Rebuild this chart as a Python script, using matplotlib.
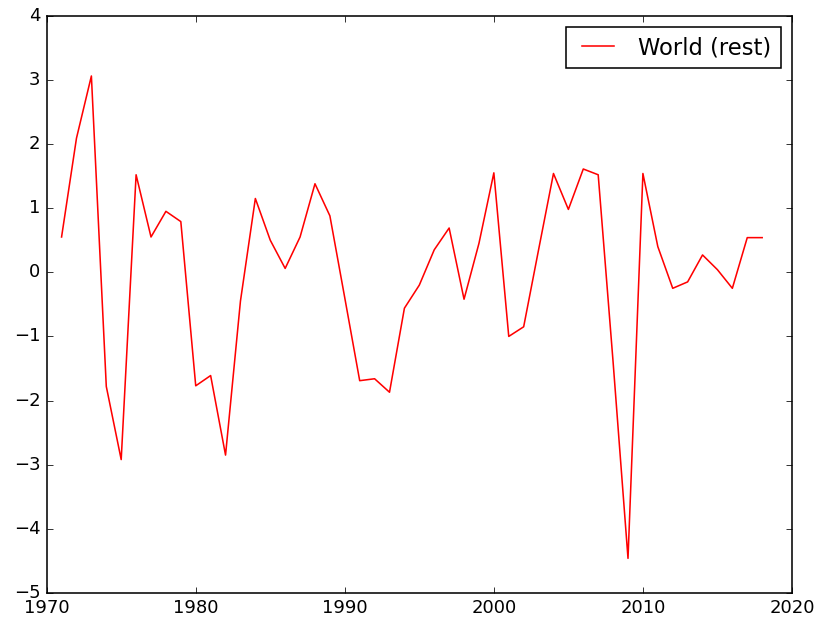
import matplotlib
matplotlib.use("Agg")
import matplotlib.pyplot as plt

# yearly values
years = list(range(1971, 2019))
world_rest = [
    0.55, 2.09, 3.06, -1.78, -2.92, 1.52, 0.55, 0.95, 0.79, -1.77,
    -1.61, -2.85, -0.45, 1.15, 0.50, 0.06, 0.55, 1.38, 0.88, -0.40,
    -1.69, -1.66, -1.87, -0.56, -0.20, 0.35, 0.69, -0.42, 0.45, 1.55,
    -1.00, -0.85, 0.35, 1.54, 0.98, 1.61, 1.52, -1.40, -4.46, 1.54,
    0.40, -0.25, -0.15, 0.27, 0.04, -0.25, 0.54, 0.54,
]
series_label = "World (rest)"

plt.style.use("classic")
DPI = 113
fig = plt.figure(figsize=(823 / DPI, 625 / DPI), dpi=DPI, facecolor="white")
ax = fig.add_axes([0.0567, 0.0512, 0.9056, 0.9237])

ax.plot(years, world_rest, color="red", linewidth=1.0, label=series_label)

ax.set_xlim(1970, 2020)
ax.set_ylim(-5, 4)
ax.set_xticks(range(1970, 2021, 10))
ax.set_yticks(range(-5, 5))
ax.ticklabel_format(useOffset=False)
ax.tick_params(labelsize=11.5)

ax.legend(loc="upper right", fontsize=14.4)

fig.savefig("out.png", dpi=DPI, facecolor="white")
